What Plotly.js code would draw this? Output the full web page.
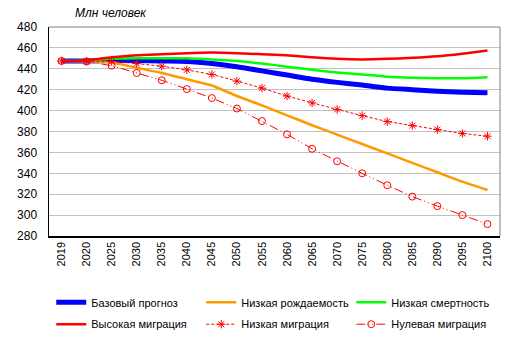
<!DOCTYPE html>
<html><head><meta charset="utf-8">
<script src="https://cdn.plot.ly/plotly-3.0.1.min.js"></script>
<style>body{margin:0;background:#fff}#c{width:514px;height:354px}</style>
</head><body><div id="c"></div>
<script>
const years = ["2019","2020","2025","2030","2035","2040","2045","2050","2055","2060","2065","2070","2075","2080","2085","2090","2095","2100"];
const baseForecast = [447.5,447.5,448,448,447.5,447,445,442,438,434,430,427,424.5,421.5,420,418.5,417.5,417];
const lowFertility = [447.5,447,446,441,436,430,424,414,405,395.5,386,377,368,359,350,341,332,324];
const lowMortality = [447.5,448,449.5,450,450,450,449,447.5,445,442,439,436.5,434.5,432.5,431.5,431,431,432];
const highMigration = [447.5,448,451,453,454,455,455.5,455,454,453,451,449.5,449,449.5,450.5,452,454.5,457.5];
const lowMigration = [447.5,447.2,447,445,442.5,439,434.6,428.2,421.5,413.9,407.4,401.1,395.2,389.5,385.7,381.9,378.1,375.5];
const zeroMigration = [447.5,447,443,436,429,420.6,412,402,390,377.3,363.5,351.5,340,328.6,317.7,308.6,300,291.4];
const names = ["Базовый прогноз","Низкая рождаемость","Низкая смертность","Высокая миграция","Низкая миграция","Нулевая миграция"];

const sp = {shape:'spline', smoothing:0.6};
const traces = [
  {x:years, y:baseForecast, name:names[0], legend:'legend', mode:'lines', line:Object.assign({color:'#0000ff', width:5}, sp)},
  {x:years, y:lowFertility, name:names[1], legend:'legend', mode:'lines', line:Object.assign({color:'#ff9900', width:2.5}, sp)},
  {x:years, y:lowMortality, name:names[2], legend:'legend', mode:'lines', line:Object.assign({color:'#00ff00', width:2.5}, sp)},
  {x:years, y:highMigration, name:names[3], legend:'legend2', mode:'lines', line:Object.assign({color:'#ff0000', width:2.5}, sp)},
  {x:years, y:lowMigration, name:names[4], legend:'legend2', mode:'lines+markers', line:{color:'#ff0000', width:1, dash:'3px,2px'},
    marker:{symbol:'asterisk-open', size:7, color:'#ff0000', line:{color:'#ff0000', width:1}}},
  {x:years, y:zeroMigration, name:names[5], legend:'legend2', mode:'lines+markers', line:{color:'#ff0000', width:1, dash:'9px,3px,1px,3px,1px,3px'},
    marker:{symbol:'circle-open', size:7, color:'#ff0000', line:{color:'#ff0000', width:1}}}
];

const legCommon = {orientation:'h', x:0.005, xanchor:'left', yanchor:'middle',
    entrywidth:105, font:{size:11, color:'#000'}, bgcolor:'rgba(0,0,0,0)', traceorder:'normal'};

const layout = {
  width:514, height:354,
  margin:{l:49, r:14, t:27, b:117.5, pad:0, autoexpand:false},
  paper_bgcolor:'#fff', plot_bgcolor:'#fff',
  font:{family:'Liberation Sans, Arial, sans-serif', size:12, color:'#000'},
  showlegend:true,
  legend:Object.assign({}, legCommon, {y:-0.317}),
  legend2:Object.assign({}, legCommon, {y:-0.422}),
  xaxis:{type:'category', range:[-0.5,17.5], tickangle:-90, showgrid:false, zeroline:false,
    showline:true, linecolor:'#000', linewidth:1.5, mirror:false, ticks:'', tickfont:{size:11}, automargin:false, fixedrange:true},
  yaxis:{range:[280,480], dtick:20, tick0:280, showgrid:true, gridcolor:'#c0c0c0', gridwidth:1, zeroline:false,
    showline:true, linecolor:'#000', linewidth:1.5, ticks:'', tickfont:{size:12}, ticklabelstandoff:8, automargin:false, fixedrange:true},
  shapes:[
    {type:'line', xref:'paper', yref:'paper', x0:0, x1:1, y0:1, y1:1, line:{color:'#808080', width:1}},
    {type:'line', xref:'paper', yref:'paper', x0:1, x1:1, y0:0, y1:1, line:{color:'#808080', width:1}}
  ],
  annotations:[
    {text:'<i>Млн человек</i>', xref:'paper', yref:'paper', x:0.053, y:1.067, xanchor:'left', yanchor:'middle',
     showarrow:false, font:{size:12, color:'#000'}}
  ]
};
Plotly.newPlot('c', traces, layout, {displayModeBar:false, staticPlot:true});
</script></body></html>
